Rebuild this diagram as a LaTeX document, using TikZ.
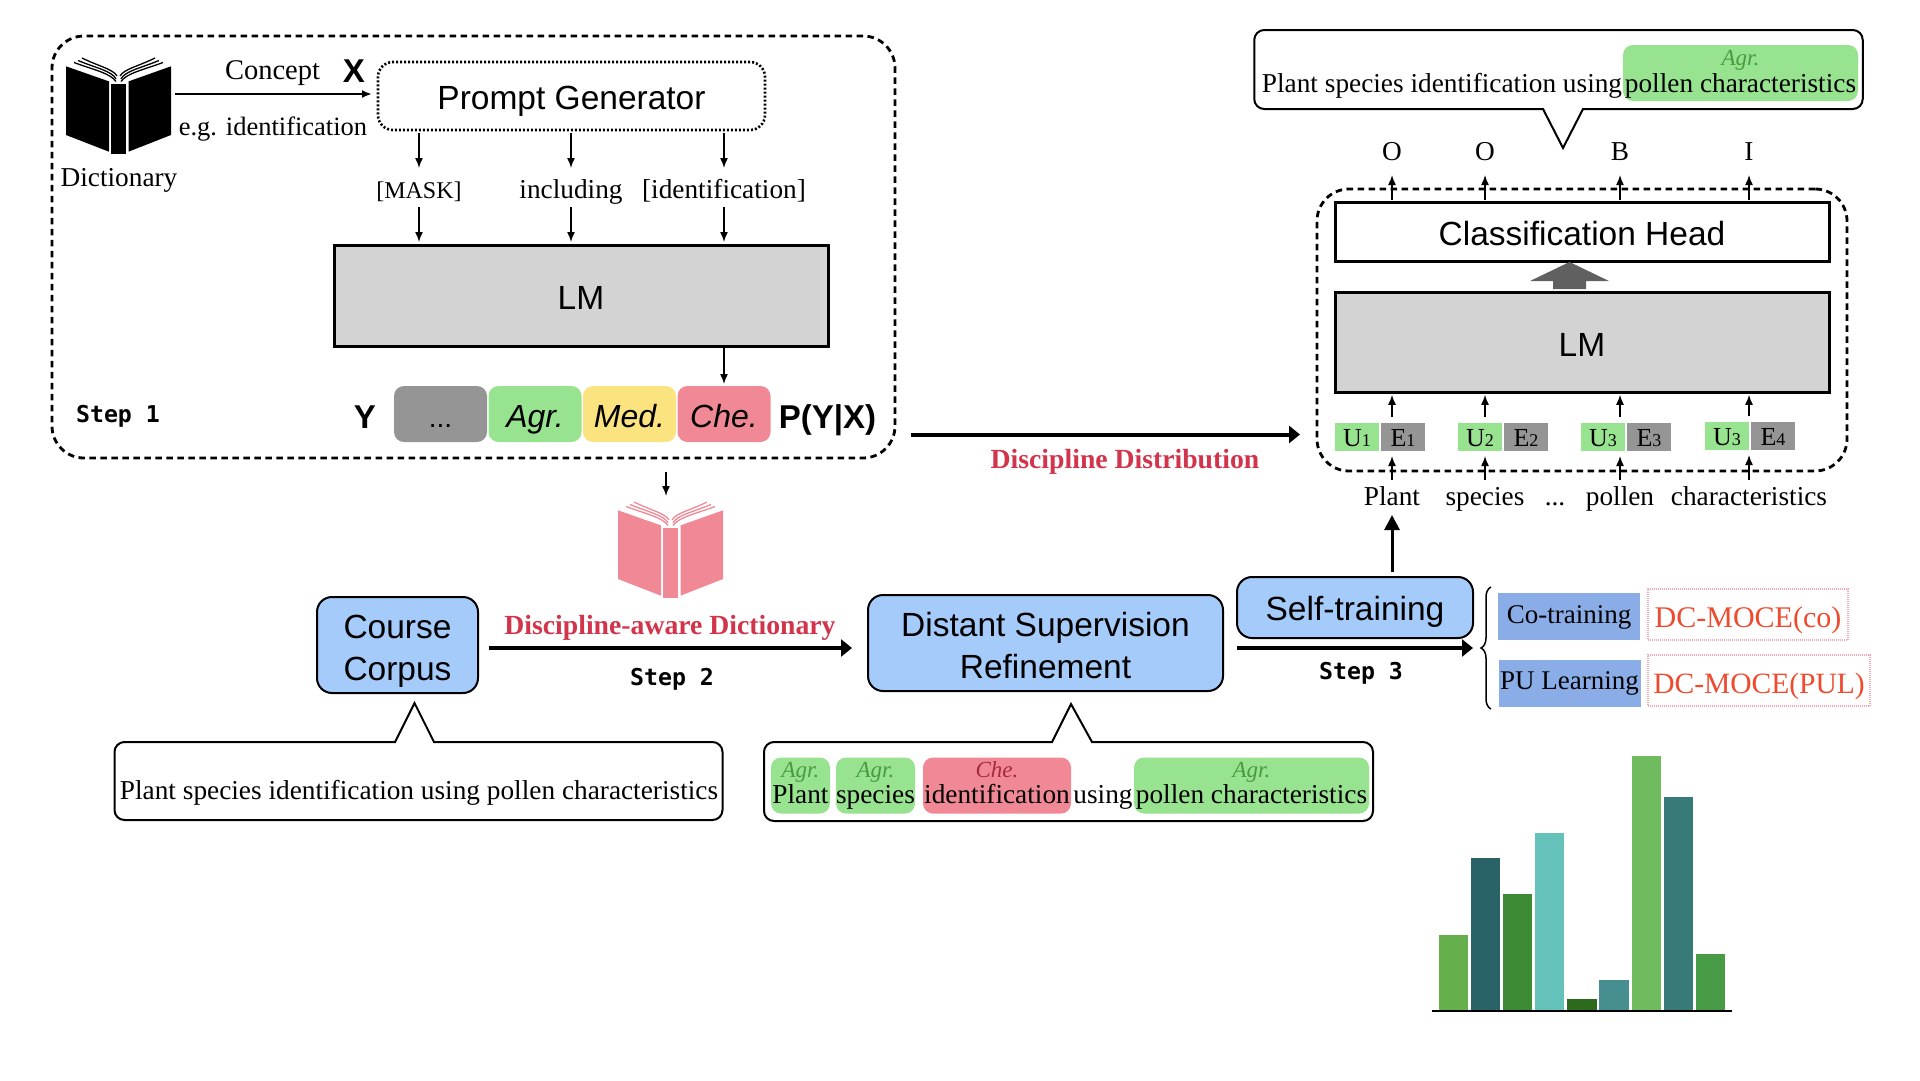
\documentclass[tikz,border=0pt]{standalone}
\usepackage{fontspec}
\usepackage{xcolor}
\usetikzlibrary{arrows.meta,positioning,decorations.pathreplacing}
\setmainfont{Liberation Serif}
\newfontfamily\headfont{Liberation Sans}
\newfontfamily\stepfont{DejaVu Sans Mono}

\definecolor{agrgreen}{HTML}{98E38F}
\definecolor{agrtext}{HTML}{4A9A3F}
\definecolor{medyellow}{HTML}{FBE480}
\definecolor{chepink}{HTML}{F08995}
\definecolor{chetext}{HTML}{A8293F}
\definecolor{dotsgray}{HTML}{959595}
\definecolor{lmgray}{HTML}{D3D3D3}
\definecolor{blockgray}{HTML}{606060}
\definecolor{procblue}{HTML}{A5CBFA}
\definecolor{varblue}{HTML}{8AADE8}
\definecolor{headred}{HTML}{D2344B}
\definecolor{dcred}{HTML}{EE4A2E}
\definecolor{dcline}{HTML}{F4A8B4}

\newcommand{\dig}[1]{{\fontsize{18}{18}\selectfont #1}}

\tikzset{
    every node/.style={inner sep=0pt, outer sep=0pt},
    dashbox/.style={rectangle, draw, line width=2.8pt, dash pattern=on 6.5pt off 4.5pt, rounded corners=32pt},
    genbox/.style={rectangle, draw, line width=2.6pt, dash pattern=on 2pt off 2pt, rounded corners=15pt,
        font=\headfont\fontsize{33.5}{36}\selectfont, text height=27pt, text depth=0pt},
    lmbox/.style={rectangle, draw, line width=3pt, font=\headfont\fontsize{33.5}{36}\selectfont,
        text height=27pt, text depth=0pt},
    procbox/.style={rectangle, draw, line width=2pt, fill=procblue, rounded corners=15pt, align=center,
        font=\headfont\fontsize{33.5}{42}\selectfont, text height=71pt, text depth=0pt},
    notebox/.style={rectangle, draw, line width=2pt, fill=white, rounded corners=10pt},
    noteline/.style={line width=2pt, line join=miter},
    serif/.style={font=\fontsize{27.3}{30}\selectfont, text height=19pt, text depth=6pt},
    tokentext/.style={font=\fontsize{27.3}{30}\selectfont, text height=30pt, text depth=9pt},
    inword/.style={font=\fontsize{27.3}{30}\selectfont, text height=25pt, text depth=10pt},
    outlabel/.style={font=\fontsize{27.3}{30}\selectfont, text height=19pt, text depth=15pt},
    redlabel/.style={font=\bfseries\fontsize{27.7}{30}\selectfont, text=headred, text height=19pt, text depth=6pt},
    stepnote/.style={font=\stepfont\bfseries\fontsize{23.2}{26}\selectfont, text height=22pt, text depth=5pt},
    boldsans/.style={font=\headfont\bfseries\fontsize{33}{36}\selectfont, text height=24pt, text depth=0pt},
    labelchip/.style={rectangle, rounded corners=10pt, minimum width=93pt, minimum height=56pt,
        font=\headfont\itshape\fontsize{32}{36}\selectfont, text height=26pt, text depth=0pt},
    wordchip/.style={rectangle, rounded corners=10pt, minimum height=56pt,
        font=\fontsize{27.3}{30}\selectfont, text height=41pt, text depth=6pt},
    tagtext/.style={font=\itshape\fontsize{23}{24}\selectfont, text height=15pt, text depth=5pt},
    varbox/.style={rectangle, fill=varblue, minimum width=142pt, minimum height=47pt,
        font=\fontsize{27}{30}\selectfont, text height=19pt, text depth=6pt},
    dcbox/.style={rectangle, draw=dcline, line width=1.2pt, dash pattern=on 1pt off 1pt, text=dcred,
        font=\fontsize{30}{32}\selectfont, text height=28pt, text depth=3pt},
    ublock/.style={rectangle, fill=agrgreen, minimum width=44pt, minimum height=28pt,
        font=\fontsize{26}{28}\selectfont, text height=18pt, text depth=0pt},
    eblock/.style={ublock, fill=dotsgray},
    thinarrow/.style={-{Latex[length=10pt,width=8pt]}, line width=1.5pt},
    midarrow/.style={-{Latex[length=10pt,width=8pt]}, line width=2pt},
    bigarrow/.style={-{Triangle[length=11pt,width=17pt]}, line width=4pt},
    bookicon/.pic={
        \fill (0,8.3) -- (43,23.4) -- (43,93.7) -- (0,77) -- cycle;
        \fill (45.3,25.8) rectangle (60,96.4);
        \fill (105,8.3) -- (62.5,23.4) -- (62.5,93.7) -- (105,77) -- cycle;
        \draw [line width=1.3pt] (8,4.5) .. controls (28,12) and (44,15) .. (50,23.5);
        \draw [line width=1.3pt] (12,2.5) .. controls (30,10) and (46,13) .. (50,21);
        \draw [line width=1.3pt] (16,0) .. controls (32,8) and (47,11) .. (51,18);
        \draw [line width=1.3pt] (97,4.5) .. controls (77,12) and (61,15) .. (55,23.5);
        \draw [line width=1.3pt] (93,2.5) .. controls (75,10) and (59,13) .. (55,21);
        \draw [line width=1.3pt] (89,0) .. controls (73,8) and (58,11) .. (54,18);
    },
}

\begin{document}
\begin{tikzpicture}[x=1pt, y=-1pt, node distance=2pt]
    \useasboundingbox (0,0) rectangle (1920,1080);

    % step 1
    \node (stepone) [dashbox, minimum width=843pt, minimum height=422pt] at (473.5,247) {};
    \pic (dictbook) at (66,58) {bookicon};
    \node (dictname) [serif] at (119,179.5) {Dictionary};
    \node (concept) [serif, font=\fontsize{28.5}{30}\selectfont] at (272.5,72.5) {Concept};
    \node (xvar) [boldsans] at (354,70) {X};
    \node (example) [serif, font=\fontsize{26.5}{30}\selectfont] at (273,128.5) {e.g. identification};
    \node (pgen) [genbox, minimum width=387pt, minimum height=68pt] at (571.5,96) {Prompt Generator};
    \node (mask) [tokentext, font=\fontsize{24}{30}\selectfont] at (419,187.5) {[MASK]};
    \node (including) [tokentext] at (571,187.5) {including};
    \node (identword) [tokentext] at (724,187.5) {[identification]};
    \node (lmone) [lmbox, fill=lmgray, minimum width=494pt, minimum height=101pt] at (581,295.5) {LM};
    \node (stepnameone) [stepnote] at (118,414) {Step 1};
    \node (yvar) [boldsans] at (365,416) {Y};
    \node (dotschip) [labelchip, fill=dotsgray, font=\headfont\fontsize{28}{30}\selectfont] at (440.5,414) {...};
    \node (agrchip) [labelchip, fill=agrgreen, right=1.5pt of dotschip] {Agr.};
    \node (medchip) [labelchip, fill=medyellow, right=1.5pt of agrchip] {Med.};
    \node (chechip) [labelchip, fill=chepink, right=1.5pt of medchip] {Che.};
    \node (pyx) [boldsans] at (827.5,416) {P(Y|X)};

    \coordinate (dictout) at (175,94);
    \draw [midarrow, shorten >=6pt] (dictout) -- (dictout -| pgen.west);
    \draw [thinarrow, shorten <=3pt] (mask.north |- pgen.south) -- (mask.north);
    \draw [thinarrow, shorten <=3pt] (including.north |- pgen.south) -- (including.north);
    \draw [thinarrow, shorten <=3pt] (identword.north |- pgen.south) -- (identword.north);
    \draw [thinarrow, shorten >=3pt] (mask.south) -- (mask.south |- lmone.north);
    \draw [thinarrow, shorten >=3pt] (including.south) -- (including.south |- lmone.north);
    \draw [thinarrow, shorten >=3pt] (identword.south) -- (identword.south |- lmone.north);
    \draw [thinarrow, shorten <=2pt, shorten >=2pt] (chechip.north |- lmone.south) -- (chechip.north);

    % step 2
    \coordinate (bookin) at (666,472);
    \coordinate (bookend) at (666,496);
    \draw [thinarrow] (bookin) -- (bookend);
    \pic (pinkbook) [color=chepink] at (618,502) {bookicon};
    \node (corpus) [procbox, minimum width=161pt, minimum height=96pt] at (397.5,645) {Course\\Corpus};
    \node (refine) [procbox, minimum width=355pt, minimum height=96pt] at (1045.5,643) {Distant Supervision\\Refinement};
    \node (awarename) [redlabel] at (670,627.5) {Discipline-aware Dictionary};
    \node (stepnametwo) [stepnote] at (672,676.5) {Step 2};
    \coordinate (dictline) at (489,648);
    \draw [bigarrow, shorten >=16pt] (dictline) -- (dictline -| refine.west);

    % the two notes under the boxes
    \node (srcnote) [notebox, minimum width=608pt, minimum height=78pt] at (418.5,781) {};
    \node (srctext) [serif] at (419,793) {Plant species identification using pollen characteristics};
    \coordinate (srctip) at (414.5,703);
    \fill [white] (396,740) rectangle (433,744.5);
    \draw [noteline] (395,742) -- (srctip) -- (434,742);

    \node (refnote) [notebox, minimum width=609pt, minimum height=79pt] at (1068.5,781.5) {};
    \coordinate (reftip) at (1071,704);
    \fill [white] (1053,740) rectangle (1091,744.5);
    \draw [noteline] (1052,742) -- (reftip) -- (1092,742);
    \node (plantword) [wordchip, fill=agrgreen, minimum width=59pt] at (800.5,785.5) {Plant};
    \node (speciesword) [wordchip, fill=agrgreen, minimum width=79pt] at (875.5,785.5) {species};
    \node (identchip) [wordchip, fill=chepink, minimum width=148pt] at (997,785.5) {identification};
    \node (usingword) [serif] at (1103,796.5) {using};
    \node (pollenword) [wordchip, fill=agrgreen, minimum width=235pt] at (1251.5,785.5) {pollen characteristics};
    \node (planttag) [tagtext, text=agrtext, below=5pt of plantword.north] {Agr.};
    \node (speciestag) [tagtext, text=agrtext, below=5pt of speciesword.north] {Agr.};
    \node (identtag) [tagtext, text=chetext, below=5pt of identchip.north] {Che.};
    \node (pollentag) [tagtext, text=agrtext, below=5pt of pollenword.north] {Agr.};

    % step 3
    \node (selfbox) [procbox, minimum width=236pt, minimum height=61pt, text height=25pt] at (1355,607.5) {Self-training};
    \node (stepnamethree) [stepnote] at (1361,671) {Step 3};
    \coordinate (selfline) at (1237,648);
    \draw [bigarrow] (selfline) -- (selfline -| selfbox.east);
    \coordinate (braceup) at (1491,587);
    \coordinate (bracedown) at (1491,709);
    \draw [line width=1.5pt, decorate, decoration={brace, amplitude=10pt}] (bracedown) -- (braceup);
    \node (cotrain) [varbox] at (1569,616.5) {Co-training};
    \node (pulearn) [varbox] at (1569.5,683) {PU Learning};
    \node (dcco) [dcbox, minimum width=200pt, minimum height=51pt] at (1748,614.5) {DC-MOCE(co)};
    \node (dcpul) [dcbox, font=\fontsize{29.5}{32}\selectfont, minimum width=222pt, minimum height=51pt] at (1759,680.5) {DC-MOCE(PUL)};

    % tagging model
    \node (modelbox) [dashbox, minimum width=530pt, minimum height=282pt] at (1582,330) {};
    \node (clshead) [lmbox, fill=white, minimum width=494pt, minimum height=58.5pt] at (1582,232) {Classification Head};
    \node (lmtwo) [lmbox, fill=lmgray, minimum width=494pt, minimum height=100.5pt] at (1582,342.5) {LM};
    \fill [blockgray] (1553,289) -- (1553,281) -- (1530,281) -- (1569.5,262) -- (1609,281) -- (1586,281) -- (1586,289) -- cycle;

    \node (uone) [ublock] at (1357,437) {U\dig{1}};
    \node (eone) [eblock, right=2pt of uone] {E\dig{1}};
    \node (utwo) [ublock] at (1480,437) {U\dig{2}};
    \node (etwo) [eblock, right=2pt of utwo] {E\dig{2}};
    \node (uthree) [ublock] at (1603,437) {U\dig{3}};
    \node (ethree) [eblock, right=2pt of uthree] {E\dig{3}};
    \node (ufour) [ublock] at (1727,436) {U\dig{3}};
    \node (efour) [eblock, right=2pt of ufour] {E\dig{4}};

    \node (plantin) [inword] at (1392,497.5) {Plant};
    \node (speciesin) [inword] at (1485,497.5) {species};
    \node (dotsin) [inword] at (1555,497.5) {...};
    \node (pollenin) [inword] at (1620,497.5) {pollen};
    \node (charsin) [inword] at (1749,497.5) {characteristics};

    \node (outone) [outlabel] at (1392,158) {O};
    \node (outtwo) [outlabel] at (1485,158) {O};
    \node (outthree) [outlabel] at (1620,158) {B};
    \node (outfour) [outlabel] at (1749,158) {I};

    \draw [thinarrow, shorten >=5pt] (plantin.north) -- (plantin.north |- uone.south);
    \draw [thinarrow, shorten >=5pt] (speciesin.north) -- (speciesin.north |- utwo.south);
    \draw [thinarrow, shorten >=5pt] (pollenin.north) -- (pollenin.north |- uthree.south);
    \draw [thinarrow, shorten >=5pt] (charsin.north) -- (charsin.north |- ufour.south);
    \draw [thinarrow, shorten <=6pt, shorten >=2pt] (plantin.north |- uone.north) -- (plantin.north |- lmtwo.south);
    \draw [thinarrow, shorten <=6pt, shorten >=2pt] (speciesin.north |- utwo.north) -- (speciesin.north |- lmtwo.south);
    \draw [thinarrow, shorten <=6pt, shorten >=2pt] (pollenin.north |- uthree.north) -- (pollenin.north |- lmtwo.south);
    \draw [thinarrow, shorten <=6pt, shorten >=2pt] (charsin.north |- ufour.north) -- (charsin.north |- lmtwo.south);
    \draw [thinarrow, shorten <=3pt] (outone.south |- clshead.north) -- (outone.south);
    \draw [thinarrow, shorten <=3pt] (outtwo.south |- clshead.north) -- (outtwo.south);
    \draw [thinarrow, shorten <=3pt] (outthree.south |- clshead.north) -- (outthree.south);
    \draw [thinarrow, shorten <=3pt] (outfour.south |- clshead.north) -- (outfour.south);

    \draw [-{Triangle[length=15pt,width=15pt]}, line width=3pt, shorten <=5pt] (selfbox.north -| plantin) -- (plantin.south);

    \coordinate (distline) at (911,434.5);
    \draw [bigarrow, shorten >=17pt] (distline) -- (distline -| modelbox.west);
    \node (distname) [redlabel] at (1125,461.5) {Discipline Distribution};

    % note over the model
    \node (outnote) [notebox, minimum width=608.5pt, minimum height=79pt] at (1558.5,69.5) {};
    \coordinate (outtip) at (1563,148);
    \fill [white] (1544,107) rectangle (1582,111);
    \draw [noteline] (1543,109) -- (outtip) -- (1583,109);
    \node (outleft) [serif] at (1442,85.5) {Plant species identification using};
    \node (outchip) [wordchip, fill=agrgreen, minimum width=235pt, text height=44pt] at (1740.5,73) {pollen characteristics};
    \node (outtag) [tagtext, text=agrtext, below=5pt of outchip.north] {Agr.};

    % distribution bars
    \fill [color={rgb,255:red,102;green,175;blue,77}] (1439,935) rectangle (1468,1011);
    \fill [color={rgb,255:red,42;green,99;blue,103}] (1471,858) rectangle (1500,1011);
    \fill [color={rgb,255:red,62;green,138;blue,52}] (1503,894) rectangle (1532,1011);
    \fill [color={rgb,255:red,100;green,194;blue,186}] (1535,833) rectangle (1564,1011);
    \fill [color={rgb,255:red,44;green,107;blue,30}] (1567,999) rectangle (1597,1011);
    \fill [color={rgb,255:red,70;green,142;blue,144}] (1599,980) rectangle (1629,1011);
    \fill [color={rgb,255:red,112;green,187;blue,93}] (1632,756) rectangle (1661,1011);
    \fill [color={rgb,255:red,56;green,122;blue,120}] (1664,797) rectangle (1693,1011);
    \fill [color={rgb,255:red,71;green,155;blue,68}] (1696,954) rectangle (1725,1011);
    \draw [line width=1.5pt] (1432,1011) -- (1732,1011);
\end{tikzpicture}
\end{document}
